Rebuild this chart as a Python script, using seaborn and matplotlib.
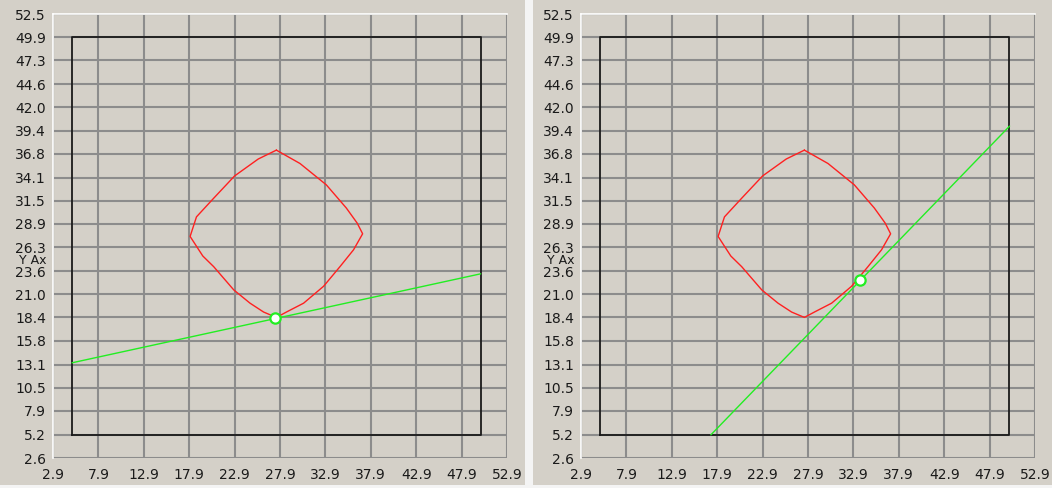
import matplotlib
matplotlib.use("Agg")
import matplotlib.pyplot as plt
import seaborn as sns
from matplotlib.patches import Rectangle

# ---- data ----
x_ticks = [2.9, 7.9, 12.9, 17.9, 22.9, 27.9, 32.9, 37.9, 42.9, 47.9, 52.9]
y_ticks = [2.6, 5.2, 7.9, 10.5, 13.1, 15.8, 18.4, 21.0, 23.6, 26.3, 28.9,
           31.5, 34.1, 36.8, 39.4, 42.0, 44.6, 47.3, 49.9, 52.5]
y_tick_labels = ["2.6", "5.2", "7.9", "10.5", "13.1", "15.8", "18.4", "21.0",
                 "23.6", "26.3", "28.9", "31.5", "34.1", "36.8", "39.4",
                 "42.0", "44.6", "47.3", "49.9", "52.5"]

box_x = [5.0, 50.0, 50.0, 5.0, 5.0]
box_y = [5.2, 5.2, 49.9, 49.9, 5.2]

shape_x = [27.5, 30.1, 33.0, 35.2, 36.4, 37.0, 36.0, 34.5, 32.7, 30.5, 28.6,
           27.5, 26.1, 24.6, 22.8, 20.6, 19.4, 18.0, 18.7, 20.6, 22.9, 25.5, 27.5]
shape_y = [37.2, 35.7, 33.3, 30.7, 29.0, 27.8, 26.0, 24.1, 21.9, 20.0, 19.0,
           18.4, 19.0, 20.0, 21.5, 24.1, 25.3, 27.5, 29.7, 31.8, 34.3, 36.2, 37.2]

left_line_x = [5.0, 50.0]
left_line_y = [13.3, 23.3]
left_point_x = [27.4]
left_point_y = [18.3]

right_line_x = [17.2, 50.1]
right_line_y = [5.2, 39.9]
right_point_x = [33.6]
right_point_y = [22.6]

BG = "#D4D0C8"
GRID = "#8C8C8C"

sns.set_style("white")
plt.rcParams["font.family"] = ["DejaVu Sans"]

fig = plt.figure(figsize=(10.52, 4.88), dpi=100)
fig.patch.set_facecolor("#F4F4F4")
W, H = 1052, 488
fig.patches.append(Rectangle((0, 3 / H), 525 / W, 1 - 3 / H, transform=fig.transFigure,
                             facecolor=BG, edgecolor="none", zorder=-10))
fig.patches.append(Rectangle((533 / W, 3 / H), 1 - 533 / W, 1 - 3 / H, transform=fig.transFigure,
                             facecolor=BG, edgecolor="none", zorder=-10))

panels = [
    (53, left_line_x, left_line_y, left_point_x, left_point_y),
    (581, right_line_x, right_line_y, right_point_x, right_point_y),
]

FS = 10

for px0, lx, ly, mx, my in panels:
    ax = fig.add_axes([px0 / W, 30 / H, 454 / W, 444 / H])
    ax.set_facecolor(BG)
    ax.set_xlim(2.9, 52.9)
    ax.set_ylim(2.6, 52.5)
    ax.set_xticks(x_ticks)
    ax.set_xticklabels([f"{v:.1f}" for v in x_ticks])
    ax.set_yticks(y_ticks)
    ax.set_yticklabels(y_tick_labels)
    ax.grid(True, color=GRID, linewidth=1.5, zorder=0)
    ax.set_axisbelow(True)
    for s in ["bottom", "right"]:
        ax.spines[s].set_visible(False)
    for s in ["left", "top"]:
        ax.spines[s].set_color("white")
        ax.spines[s].set_linewidth(1.2)
    ax.tick_params(axis="both", direction="out", length=4, width=1, color="black",
                   labelsize=FS, labelcolor="#1a1a1a", pad=1)
    ax.tick_params(axis="x", pad=3)

    sns.lineplot(x=box_x, y=box_y, sort=False, estimator=None, color="#1a1a1a",
                 linewidth=1.3, ax=ax)
    sns.lineplot(x=shape_x, y=shape_y, sort=False, estimator=None, color="#FF2020",
                 linewidth=1.0, ax=ax)
    sns.lineplot(x=lx, y=ly, sort=False, estimator=None, color="#22EE22",
                 linewidth=1.0, ax=ax)
    sns.scatterplot(x=mx, y=my, s=55, color="white", edgecolor="#22EE22",
                    linewidth=1.6, ax=ax, zorder=5)
    ax.set_xlabel("")
    ax.set_ylabel("")
    ax.text(-0.075, 0.445, "Y Ax", transform=ax.transAxes, fontsize=FS - 1,
            color="#1a1a1a", ha="left", va="center")

fig.savefig("out.png", dpi=100, facecolor=fig.get_facecolor())
